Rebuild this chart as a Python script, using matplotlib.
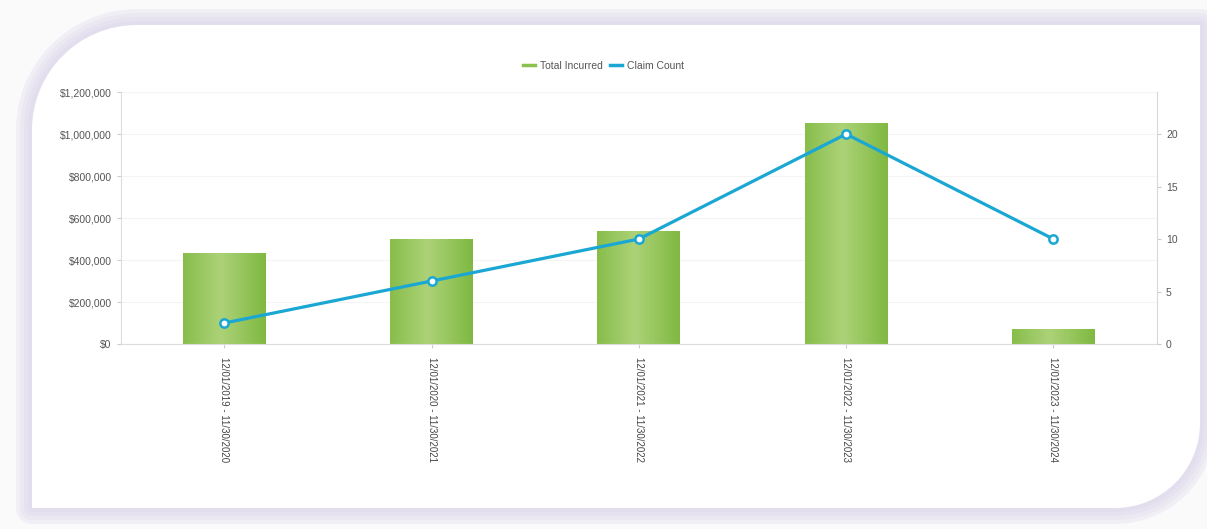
import numpy as np
import matplotlib
matplotlib.use("Agg")
from matplotlib import pyplot as plt
from matplotlib.patches import PathPatch
from matplotlib.path import Path
from matplotlib.ticker import FuncFormatter, MultipleLocator

plt.rcParams["font.family"] = ["Liberation Sans", "DejaVu Sans"]

periods = ["12/01/2019 - 11/30/2020", "12/01/2020 - 11/30/2021", "12/01/2021 - 11/30/2022",
           "12/01/2022 - 11/30/2023", "12/01/2023 - 11/30/2024"]
total_incurred = [435000, 500000, 538000, 1052000, 72000]
claim_count = [2, 6, 10, 20, 10]

bar_green = "#8cc152"
line_blue = "#1aa7d4"
text_gray = "#555555"

W, H = 1207, 529


def card_path(x0, y0, x1, y1, radii):
    # radii in pixels: top-left, top-right, bottom-right, bottom-left; y measured from top
    k = 0.5523
    tl, tr, br, bl = radii
    pts = [(x0 + tl, y0), (x1 - tr, y0),
           (x1 - tr + k * tr, y0), (x1, y0 + tr - k * tr), (x1, y0 + tr),
           (x1, y1 - br),
           (x1, y1 - br + k * br), (x1 - br + k * br, y1), (x1 - br, y1),
           (x0 + bl, y1),
           (x0 + bl - k * bl, y1), (x0, y1 - bl + k * bl), (x0, y1 - bl),
           (x0, y0 + tl),
           (x0, y0 + tl - k * tl), (x0 + tl - k * tl, y0), (x0 + tl, y0)]
    codes = [Path.MOVETO, Path.LINETO,
             Path.CURVE4, Path.CURVE4, Path.CURVE4,
             Path.LINETO,
             Path.CURVE4, Path.CURVE4, Path.CURVE4,
             Path.LINETO,
             Path.CURVE4, Path.CURVE4, Path.CURVE4,
             Path.LINETO,
             Path.CURVE4, Path.CURVE4, Path.CURVE4]
    pts = [(px / W, 1 - py / H) for px, py in pts]
    return Path(pts, codes)


fig = plt.figure(figsize=(12.07, 5.29), dpi=100)
fig.patch.set_facecolor("#fafafb")

# soft lavender glow around the card
for i, d in enumerate([16, 12, 8, 4]):
    glow = PathPatch(card_path(32 - d, 25 - d, 1200 + d, 508 + d, (105 + d, d, 85 + d, d)),
                     transform=fig.transFigure, facecolor="#dcd6ea", edgecolor="none",
                     alpha=0.28, zorder=-3 + i * 0.1)
    fig.patches.append(glow)
card = PathPatch(card_path(32, 25, 1200, 508, (105, 0, 85, 0)), transform=fig.transFigure,
                 facecolor="white", edgecolor="none", zorder=-1)
fig.patches.append(card)

ax = fig.add_axes([0.1, 0.3497, 0.8586, 0.4763])
ax.set_facecolor("none")
x = np.arange(len(periods))
w = 0.4
bars = ax.bar(x, total_incurred, width=w, color=bar_green, zorder=2, label="Total Incurred")

# horizontal shading on the bars
grad = np.linspace(0, 1, 64)
shade = 1 - np.abs(grad - 0.45) * 1.4
cmap = matplotlib.colors.LinearSegmentedColormap.from_list("g", ["#80b942", "#acd277"])
for b in bars:
    x0, y0 = b.get_x(), b.get_y()
    im = ax.imshow(shade[None, :], cmap=cmap, aspect="auto", zorder=2,
                   extent=[x0, x0 + b.get_width(), y0, y0 + b.get_height()])
    im.set_clip_path(b)

ax.set_xlim(-0.5, len(periods) - 0.5)
ax.set_ylim(0, 1200000)
ax.yaxis.set_major_locator(MultipleLocator(200000))
ax.yaxis.set_major_formatter(FuncFormatter(lambda v, p: f"${v:,.0f}"))
ax.grid(axis="y", color="#f4f4f4", lw=0.8, zorder=0)
ax.set_xticks(x)
ax.set_xticklabels(periods, rotation=270, fontsize=7, color="#444444")
ax.tick_params(axis="y", labelsize=7.5, labelcolor=text_gray, color="#cccccc", length=3)
ax.tick_params(axis="x", color="#cccccc", length=3, pad=6)
for s in ["top", "right"]:
    ax.spines[s].set_visible(False)
ax.spines["left"].set_color("#dddddd")
ax.spines["bottom"].set_color("#dddddd")

ax2 = ax.twinx()
ax2.plot(x, claim_count, color=line_blue, lw=2.3, marker="o", ms=6, mfc="white",
         mec=line_blue, mew=1.8, zorder=3, label="Claim Count")
ax2.set_ylim(0, 24)
ax2.set_yticks([0, 5, 10, 15, 20])
ax2.tick_params(axis="y", labelsize=7.5, labelcolor=text_gray, color="#cccccc", length=3)
for s in ["top", "left", "bottom"]:
    ax2.spines[s].set_visible(False)
ax2.spines["right"].set_color("#d8d8d8")
ax2.spines["right"].set_linestyle((0, (2, 1)))

handles = [plt.Line2D([], [], color=bar_green, lw=2.5), plt.Line2D([], [], color=line_blue, lw=2.5)]
fig.legend(handles, ["Total Incurred", "Claim Count"], loc="center", bbox_to_anchor=(0.5, 0.875),
           ncol=2, frameon=False, fontsize=7.5, labelcolor=text_gray, handlelength=1.2,
           handletextpad=0.5, columnspacing=0.6)

fig.savefig("out.png", dpi=100, facecolor=fig.get_facecolor())
